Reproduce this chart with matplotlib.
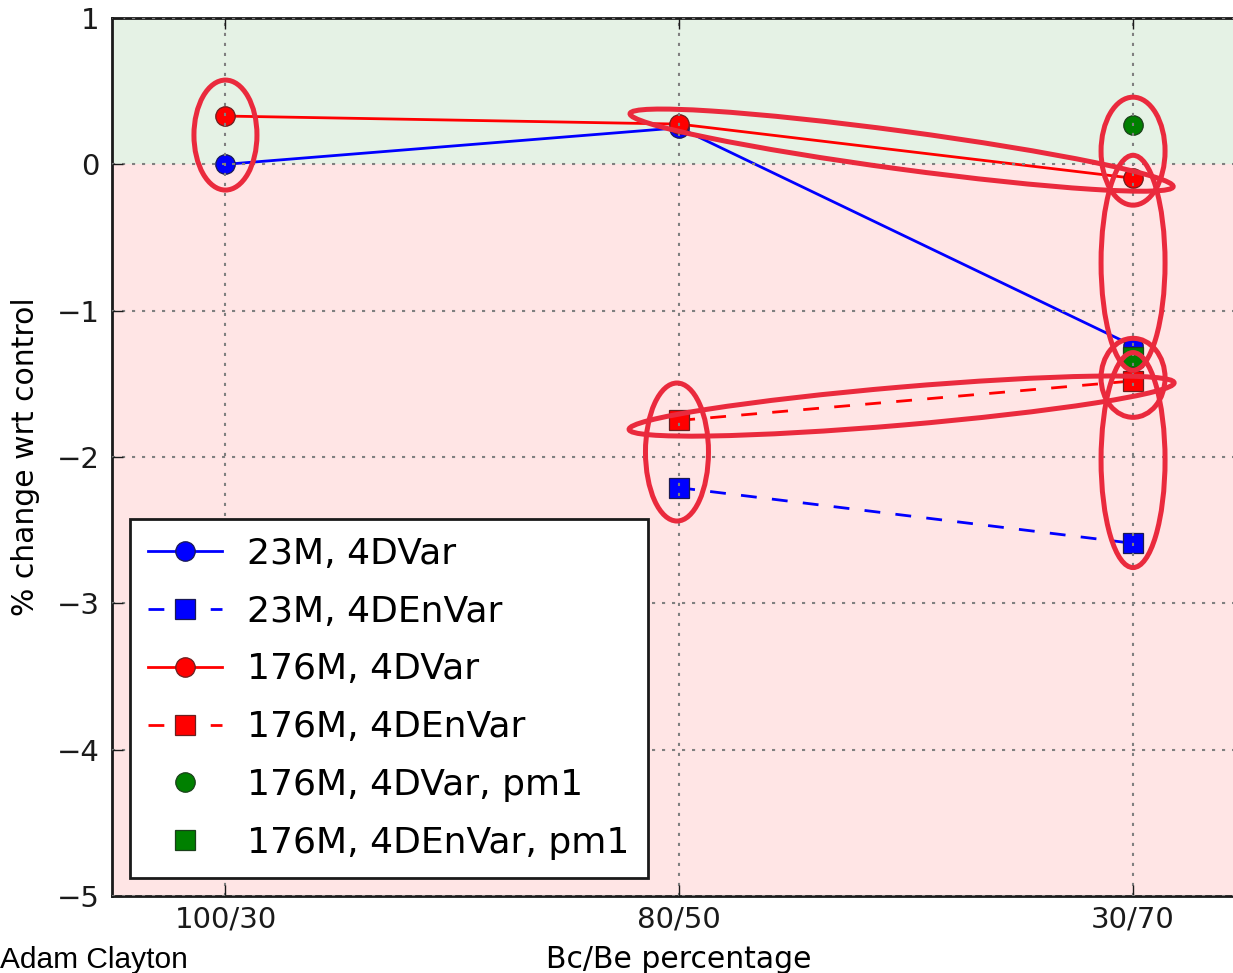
import matplotlib
matplotlib.use("Agg")
import matplotlib.pyplot as plt
from matplotlib.patches import Ellipse
from matplotlib.transforms import IdentityTransform

# ---------------- data ----------------
categories = ["100/30", "80/50", "30/70"]
yticks = [1, 0, -1, -2, -3, -4, -5]

# x index positions of each series (category index)
x_23m_4dvar = [0, 1, 2]
y_23m_4dvar = [0.0, 0.25, -1.24]

x_23m_4denvar = [1, 2]
y_23m_4denvar = [-2.21, -2.59]

x_176m_4dvar = [0, 1, 2]
y_176m_4dvar = [0.33, 0.275, -0.095]

x_176m_4denvar = [1, 2]
y_176m_4denvar = [-1.75, -1.48]

x_176m_4dvar_pm1 = [2]
y_176m_4dvar_pm1 = [0.27]

x_176m_4denvar_pm1 = [2]
y_176m_4denvar_pm1 = [-1.32]

labels = ["23M, 4DVar", "23M, 4DEnVar", "176M, 4DVar", "176M, 4DEnVar",
          "176M, 4DVar, pm1", "176M, 4DEnVar, pm1"]

# hand-drawn annotation ellipses: centre (data coords), width/height (px), angle (deg)
ann_cx = [0.0, 1.49, 2.0, 2.0, 2.0, 1.49, 0.995, 2.0]
ann_cy = [0.20, 0.097, 0.09, -0.673, -1.459, -1.652, -1.966, -2.021]
ann_w = [63, 548, 64, 64, 64, 547, 63, 64]
ann_h = [110, 38, 108, 215, 79, 38, 138, 215]
ann_ang = [0, -7.66, 0, 0, 0, 4.9, 0, 0]

# ---------------- figure ----------------
W, H = 1233, 973
fig = plt.figure(figsize=(W / 100, H / 100), dpi=100)
ax = fig.add_axes([112 / W, 77 / H, (1246.5 - 112) / W, 878 / H])

ax.set_xlim(-0.25, 2.25)
ax.set_ylim(-5, 1)

ax.axhspan(0, 1, color=(0, 0.5, 0), alpha=0.1, lw=0, zorder=0)
ax.axhspan(-5, 0, color=(1, 0, 0), alpha=0.1, lw=0, zorder=0)

ms = 14
mew = 0.9
dash = (0, (5.7, 5.5))
ax.plot(x_23m_4dvar, y_23m_4dvar, color="blue", lw=2, marker="o", ms=ms,
        mec="#1a1a55", mew=mew, label=labels[0])
ax.plot(x_23m_4denvar, y_23m_4denvar, color="blue", lw=2, ls=dash, marker="s", ms=ms,
        mec="#1a1a55", mew=mew, label=labels[1])
ax.plot(x_176m_4dvar, y_176m_4dvar, color="red", lw=2, marker="o", ms=ms,
        mec="#6a2020", mew=mew, label=labels[2])
ax.plot(x_176m_4denvar, y_176m_4denvar, color="red", lw=2, ls=dash, marker="s", ms=ms,
        mec="#6a2020", mew=mew, label=labels[3])
ax.plot(x_176m_4dvar_pm1, y_176m_4dvar_pm1, color="green", lw=0, ls="none", marker="o",
        ms=ms, mec="#1a401a", mew=mew, label=labels[4])
ax.plot(x_176m_4denvar_pm1, y_176m_4denvar_pm1, color="green", lw=0, ls="none", marker="s",
        ms=ms, mec="#1a401a", mew=mew, label=labels[5])

ax.set_xticks(range(len(categories)))
ax.set_xticklabels(categories)
ax.set_yticks(yticks)

ax.grid(True, color="0.5", lw=1.5, ls=(0, (1.5, 3.3)))
ax.set_axisbelow(False)
for gl in ax.get_xgridlines() + ax.get_ygridlines():
    gl.set_zorder(1)

for s in ax.spines.values():
    s.set_linewidth(2)
    s.set_color("#1a1a1a")

ax.tick_params(direction="in", length=8, width=1, top=True, right=True,
               labelsize=21, pad=7, colors="#1a1a1a")
ax.tick_params(axis="y", pad=9)

ax.set_xlabel("Bc/Be percentage", fontsize=21.5, labelpad=8)
ax.set_ylabel("% change wrt control", fontsize=21.5, labelpad=12)

leg = ax.legend(loc="lower left", bbox_to_anchor=(0, 0), borderaxespad=0.5,
                fontsize=26, numpoints=1, handlelength=2.05, handletextpad=0.7,
                labelspacing=0.66, borderpad=0.5, fancybox=False, framealpha=1,
                edgecolor="#1a1a1a")
leg.get_frame().set_linewidth(2)

fig.text(0.5 / W, 5 / H, "Adam Clayton", fontsize=21.5, family="Liberation Sans",
         ha="left", va="baseline", color="black")

# annotation ellipses drawn in pixel space, anchored to data positions
fig.canvas.draw()
for cx, cy, w, h, a in zip(ann_cx, ann_cy, ann_w, ann_h, ann_ang):
    px, py = ax.transData.transform((cx, cy))
    e = Ellipse((px, py), w, h, angle=a, fill=False, edgecolor="#ea2a3d",
                lw=3.6, transform=IdentityTransform(), zorder=10)
    fig.add_artist(e)

fig.savefig("out.png", dpi=100)
